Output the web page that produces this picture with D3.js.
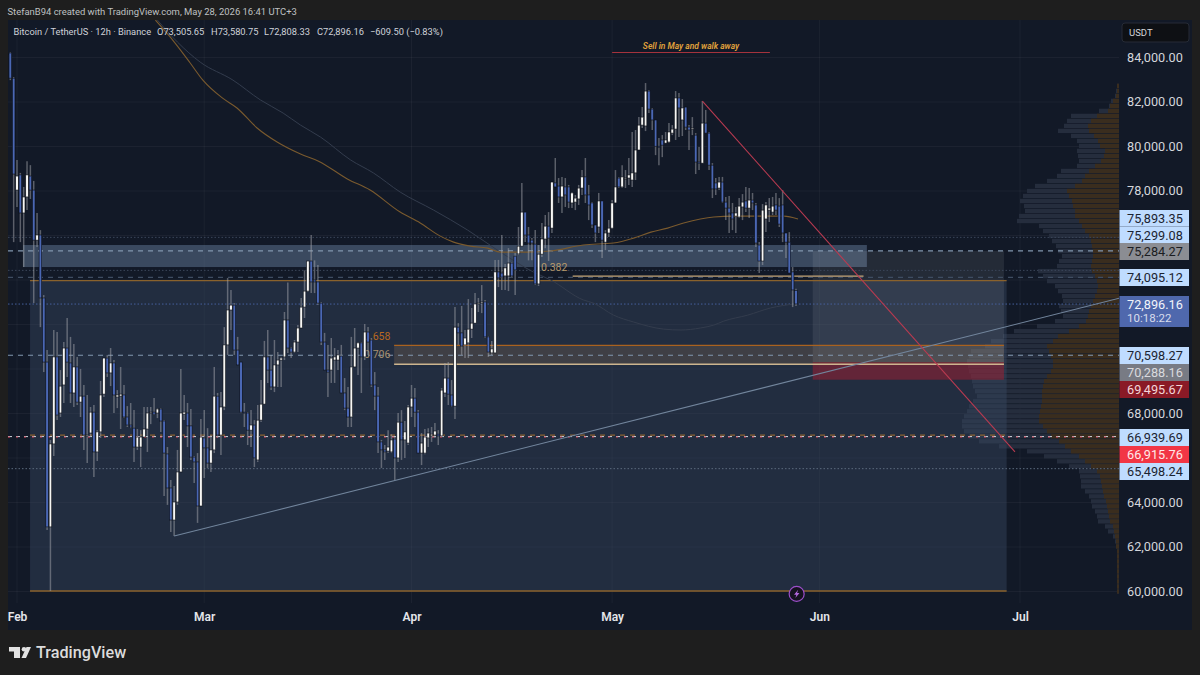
<!DOCTYPE html>
<html>
<head>
<meta charset="utf-8">
<title>BTCUSDT 12h</title>
<script src="https://cdn.jsdelivr.net/npm/d3@7/dist/d3.min.js"></script>
<style>
  html, body { margin: 0; padding: 0; background: #1e1e1e; }
  svg { display: block; }
  text { font-family: Roboto, "Noto Sans", sans-serif; }
</style>
</head>
<body>
<svg id="chart" width="1200" height="675"></svg>
<script>
// BTC/USDT 12h session values, in thousands of USDT, ten sessions per row.
const opens = [
84.09,84.18,83.05,78.02,78.70,76.99,77.71,78.65,78.02,75.77,
76.00,73.17,70.29,62.88,66.61,70.52,68.00,69.26,70.92,70.25,
68.90,70.07,68.49,68.76,66.97,67.10,68.04,66.25,67.15,68.85,
70.47,69.80,70.25,68.72,68.76,68.81,67.82,67.46,67.32,66.47,
66.47,66.92,67.28,68.00,68.04,68.00,68.18,67.64,66.16,64.63,
63.19,64.00,65.35,67.95,68.00,67.42,66.02,65.80,63.82,66.88,
66.43,65.75,66.34,68.76,67.01,68.27,71.06,72.63,72.85,70.83,
70.29,68.04,68.00,67.23,67.46,65.89,67.68,68.40,70.52,69.93,
69.17,70.16,70.38,70.52,72.18,70.92,70.74,71.19,71.82,72.76,
73.48,74.83,73.98,73.89,72.94,71.19,69.93,69.93,70.38,70.38,
70.56,68.90,68.22,67.82,70.07,70.92,71.15,70.52,71.64,71.28,
69.26,68.76,66.70,66.34,66.29,66.25,66.83,65.98,67.59,66.79,
66.65,68.27,68.67,68.04,66.20,66.20,66.88,66.97,67.01,67.05,
66.97,68.90,69.57,68.81,68.31,71.86,71.60,71.06,71.15,71.77,
72.04,72.90,72.94,72.99,71.42,70.70,70.70,74.34,74.29,74.16,
74.16,74.74,75.05,75.15,75.50,77.03,76.00,75.77,75.59,73.80,
75.14,75.82,76.40,76.31,78.34,78.20,77.71,78.16,78.16,77.44,
77.48,77.62,78.11,78.61,77.80,77.44,76.45,76.36,77.53,75.68,
76.09,76.31,77.44,78.56,78.16,78.52,78.56,78.47,78.79,79.82,
80.94,80.90,82.47,81.66,81.17,79.99,80.27,80.13,80.18,80.58,
80.76,82.16,81.17,81.75,80.85,80.76,80.49,79.28,79.23,81.03,
80.58,79.14,78.34,78.11,78.38,77.48,77.21,76.99,76.85,76.81,
77.26,77.53,77.21,77.57,77.35,75.55,74.83,76.72,77.12,77.03,
77.35,77.30,77.35,76.09,75.68,74.34,73.51];
const highs = [
84.22,84.22,83.10,79.37,78.79,78.16,79.32,79.14,78.43,76.99,
76.22,73.30,70.83,66.79,71.73,71.64,69.93,71.19,72.27,71.42,
71.10,70.52,69.98,69.26,68.81,68.27,68.36,67.23,69.44,70.47,
70.61,70.92,70.38,69.03,70.07,69.26,68.31,68.45,68.13,67.28,
67.23,68.27,68.27,68.27,68.67,68.22,68.22,67.68,66.47,64.99,
64.72,66.34,69.98,68.81,68.45,68.18,66.07,66.20,67.73,68.13,
67.32,67.01,70.07,68.90,68.94,71.86,74.07,73.53,72.94,71.42,
70.29,68.45,68.04,68.13,67.68,68.36,69.48,71.24,71.73,70.61,
71.28,70.74,70.52,72.54,73.87,70.97,71.28,71.95,73.17,74.41,
74.83,76.00,74.86,74.65,72.99,71.60,71.06,71.37,70.92,70.83,
71.06,69.57,69.17,71.42,71.82,71.19,71.19,72.00,71.86,71.37,
69.84,69.17,66.79,66.56,67.23,67.05,66.92,68.00,68.13,67.64,
68.36,69.26,69.12,68.13,67.10,67.28,67.32,67.37,67.55,67.23,
69.12,70.25,70.29,69.48,72.76,72.04,72.81,71.73,73.12,72.72,
73.39,73.17,73.75,73.08,71.46,71.24,74.88,74.88,76.00,74.70,
75.41,74.79,75.19,76.36,78.34,77.03,76.36,75.86,76.22,75.55,
76.54,76.90,77.03,78.38,79.46,78.56,78.61,78.56,78.25,77.93,
77.80,78.25,78.92,79.46,78.25,77.48,76.45,77.89,77.53,76.22,
76.67,77.57,78.92,78.61,79.14,78.92,79.46,80.63,80.72,81.30,
81.75,82.83,82.52,81.71,81.17,80.36,80.49,80.63,81.03,80.94,
82.47,82.38,82.11,81.75,80.94,81.30,80.58,79.95,82.02,81.62,
80.63,79.23,78.56,78.61,78.61,77.71,77.75,77.44,77.26,77.66,
77.84,78.16,78.11,77.89,77.44,75.68,77.39,77.48,77.66,77.71,
77.89,77.66,78.02,76.09,76.13,74.56,73.58];
const lows = [
82.56,82.96,75.68,77.26,75.68,74.56,77.12,77.62,72.94,75.46,
71.86,69.84,62.74,60.00,66.07,67.68,67.82,68.45,69.62,68.45,
68.27,68.36,67.82,66.34,65.75,66.92,65.12,65.84,66.88,68.72,
69.62,69.21,68.00,68.22,67.28,67.77,67.37,67.32,65.80,66.34,
65.57,66.92,66.25,67.50,67.91,67.77,67.15,64.27,63.87,62.65,
62.47,63.87,65.35,67.68,66.47,65.89,64.85,63.06,63.82,65.08,
65.53,65.35,66.20,66.88,66.11,68.13,70.61,71.73,70.61,70.16,
68.00,67.37,66.56,66.47,65.57,65.80,67.59,68.40,69.35,69.03,
68.94,69.17,69.17,70.38,70.70,70.47,70.70,70.74,71.82,72.27,
73.44,73.39,73.39,72.85,71.06,69.93,68.72,69.35,69.35,69.93,
68.90,68.13,67.37,67.37,70.07,69.71,68.90,70.38,70.61,69.17,
68.13,66.20,65.53,65.89,66.20,66.20,64.99,65.80,65.89,65.98,
66.56,67.82,67.37,66.20,65.66,66.15,66.47,66.70,66.88,66.56,
66.92,68.72,68.36,68.27,67.73,71.06,70.61,70.47,70.47,71.37,
72.04,72.54,72.49,71.37,70.52,70.61,70.70,73.66,73.53,73.53,
73.48,74.11,73.30,75.10,75.50,75.68,74.86,74.86,73.75,73.71,
75.01,75.41,74.83,76.09,78.16,77.44,76.99,77.26,77.21,77.21,
77.12,77.35,77.80,77.44,76.67,76.31,75.68,76.09,74.97,75.32,
75.91,76.27,77.44,78.11,78.11,78.11,78.25,78.16,78.47,79.82,
80.81,80.67,81.48,80.72,79.59,79.14,79.50,80.13,80.13,80.49,
80.27,80.40,80.45,80.72,79.82,80.49,78.74,78.92,79.23,80.58,
78.92,77.66,77.80,78.02,77.44,76.67,76.09,76.22,76.09,76.76,
76.67,77.03,76.76,77.12,75.46,74.29,74.65,76.13,76.58,76.90,
76.90,76.36,75.68,74.97,74.29,72.76,72.81];
const closes = [
83.05,83.05,78.74,78.65,76.99,77.71,78.70,78.02,75.77,76.00,
73.17,70.29,62.88,66.61,70.52,67.91,69.21,70.92,70.29,68.90,
70.07,68.49,68.76,67.01,67.01,68.04,66.25,67.15,68.81,70.47,
69.80,70.25,68.81,68.81,68.85,67.82,67.46,67.37,66.47,66.92,
66.92,67.28,68.00,68.04,67.95,68.18,67.64,66.20,64.63,63.19,
64.00,65.35,68.00,68.04,67.42,66.02,65.80,63.82,66.92,66.43,
65.75,66.34,68.76,67.01,68.27,71.06,72.63,72.85,70.83,70.16,
68.04,68.00,67.23,67.46,65.98,67.68,68.40,70.52,69.93,69.17,
70.16,70.38,70.47,72.18,70.92,70.74,71.19,71.82,72.76,73.48,
74.83,73.89,73.89,72.94,71.19,69.93,69.84,70.47,70.52,70.61,
68.90,68.22,67.82,70.07,70.92,71.15,70.52,71.64,71.19,69.26,
68.76,66.70,66.34,66.25,66.47,66.79,65.98,67.59,66.79,67.15,
68.27,68.67,68.04,66.20,66.65,66.92,67.10,67.05,67.19,66.97,
69.03,69.57,68.85,68.31,71.86,71.60,71.01,71.37,71.77,72.04,
72.90,72.94,72.99,71.42,70.74,70.88,74.34,74.07,74.11,74.52,
74.74,74.16,74.43,75.50,77.03,76.00,75.64,75.64,73.80,75.14,
75.82,76.40,75.86,78.38,78.16,77.71,78.20,77.80,77.48,77.89,
77.66,78.11,78.61,77.80,77.35,76.45,76.09,77.53,75.77,76.09,
76.31,77.44,78.16,78.16,78.61,78.56,78.70,78.79,79.82,80.94,
81.30,82.47,81.66,81.17,79.99,79.95,80.04,80.27,80.63,80.76,
82.16,81.71,81.71,80.85,80.72,80.81,79.28,79.23,81.03,80.58,
79.14,78.07,78.07,78.38,77.48,77.21,76.99,76.72,76.99,77.30,
77.48,77.21,77.57,77.44,75.64,74.83,77.12,77.35,77.21,77.30,
77.12,76.49,76.09,75.68,74.29,73.53,72.90];

// Moving averages: day offset from 1 Feb, value in thousands.
const emaFastDays = [20.7,22.9,25.9,27.8,30.7,32.9,35.9,38.9,42.4,45.1,49.4,52.8,57.3,60.3,63.3,65.3,67.8,70.4,72.3,76.3,79.8,84.7,89.2,92.2,94.8,97.3,99.7,102.2,104.2,107.2,112.3,114.7,116.8];
const emaFastValues = [85.66,84.90,83.73,82.96,82.16,81.71,80.81,80.18,79.64,79.32,78.52,78.02,77.03,76.54,75.95,75.68,75.50,75.41,75.23,75.23,75.28,75.55,75.64,75.86,76.13,76.31,76.54,76.72,76.81,76.85,76.85,76.85,76.72];
const emaSlowDays = [21,24,27.4,32.3,36.4,39.8,42.4,45.4,49.9,53.3,57.3,62.3,67.4,72.3,77.2,79.8,84.7,86.2,89.2,92.2,96.7,99.3,102.2,104.2,105.7,109.3,112.7,116.2];
const emaSlowValues = [85.66,84.67,83.77,82.96,82.07,81.48,80.94,80.40,79.37,78.79,77.93,77.12,76.22,75.23,74.34,73.98,73.08,72.94,72.40,72.09,71.77,71.73,71.82,71.95,72.13,72.40,72.72,72.90];

// Visible range volume profile, one row per 225 USDT, top row first.
const profileTopPrice = 82800;
const profileStep = 225;
const profileTotal = [2,3,4,8,10,20,48,52,55,61,48,42,40,42,41,40,42,58,62,72,84,92,96,99,95,94,100,102,80,76,70,67,63,61,57,60,62,81,76,72,64,61,57,56,60,58,56,64,82,105,116,128,134,148,150,152,151,150,148,147,146,144,142,146,150,152,155,157,157,155,150,140,120,92,75,62,50,40,39,38,38,34,30,28,27,24,22,21,14,11,6,4,3,2,2,2,2,2,2,2,2,2];
const profileBuy = [2,2,3,6,9,11,22,28,31,30,25,21,19,14,15,18,24,30,34,37,44,52,50,47,46,44,44,40,37,34,30,28,27,26,26,27,28,27,24,22,21,22,24,26,28,30,31,33,40,50,61,66,72,70,68,66,66,68,72,75,76,77,77,77,78,79,80,80,76,72,68,60,54,48,40,34,28,22,19,18,17,16,15,13,12,11,10,9,6,5,4,3,3,2,2,2,2,2,2,2,2,2];

// Axis ticks and price tags.
const priceTicks = [60000,62000,64000,66000,68000,70000,72000,74000,76000,78000,80000,82000,84000];
const labelledTicks = [60000,62000,64000,68000,78000,80000,82000,84000];
const monthTicks = ["2026-02-01","2026-03-01","2026-04-01","2026-05-01","2026-06-01","2026-07-01"];
const tagValues = [75893.35,75299.08,75284.27,74095.12,72896.16,70598.27,70288.16,69495.67,66939.69,66915.76,65498.24];
const tagKinds  = ["alert","alert","pivot","alert","last","alert","muted","stop","alert","danger","alert"];
const tagRows   = [210,226.5,243,269,296,347,364,381,429,446,463];

// Price lines running across the whole plot.
const dashedLevels = [75284.27,70598.27];
const darkDashedLevels = [74095.12];
const dottedLevels = [75893.35,74410];
const lastPrice = 72896.16;
const lowDotted = 65498.24;
const supportBand = 66939.69;

const w = 1200, h = 675;
const panel = { left: 8, right: 1192, top: 20, bottom: 630 };
const plotRight = 1119;

const svg = d3.select("#chart");
const x = d3.scaleUtc()
  .domain([new Date(Date.UTC(2026,1,1)), new Date(Date.UTC(2026,6,1))])
  .range([17, 1020]);
const y = d3.scaleLinear().domain([60000, 84000]).range([591, 57]);
const feb1 = Date.UTC(2026,1,1);
const day = d => new Date(feb1 + d * 864e5);
const xd = d => x(day(d));

const candles = opens.map((o, i) => ({
  t: new Date(feb1 + (i - 3) * 12 * 36e5),
  o: o * 1000, h: highs[i] * 1000, l: lows[i] * 1000, c: closes[i] * 1000
}));

svg.append("rect").attr("width", w).attr("height", h).attr("fill", "#1e1e1e");
svg.append("rect").attr("x", panel.left).attr("y", panel.top)
  .attr("width", panel.right - panel.left).attr("height", panel.bottom - panel.top)
  .attr("fill", "#121927");

svg.append("defs").append("clipPath").attr("id", "plot")
  .append("rect").attr("x", panel.left).attr("y", panel.top)
  .attr("width", plotRight - panel.left).attr("height", panel.bottom - panel.top);

// Grid
const grid = svg.append("g").attr("stroke", "#ffffff").attr("stroke-opacity", 0.045);
grid.selectAll("line.h").data(priceTicks).join("line")
  .attr("x1", panel.left).attr("x2", plotRight)
  .attr("y1", d => y(d) + .5).attr("y2", d => y(d) + .5);
grid.selectAll("line.v").data(monthTicks).join("line")
  .attr("x1", d => x(new Date(d))).attr("x2", d => x(new Date(d)))
  .attr("y1", panel.top).attr("y2", 603);

// Volume profile
const vol = d3.scaleLinear().domain([0, 100]).range([plotRight, plotRight - 100]);
const rowPrice = i => profileTopPrice - i * profileStep;
const rowH = Math.abs(y(0) - y(profileStep));
const prof = svg.append("g");
prof.selectAll("rect.t").data(profileTotal).join("rect")
  .attr("x", d => vol(d)).attr("width", d => plotRight - vol(d))
  .attr("y", (d, i) => y(rowPrice(i))).attr("height", rowH - 0.7)
  .attr("fill", "#252d3d");
prof.selectAll("rect.b").data(profileBuy).join("rect")
  .attr("x", d => vol(d)).attr("width", d => plotRight - vol(d))
  .attr("y", (d, i) => y(rowPrice(i))).attr("height", rowH - 0.7)
  .attr("fill", "#3a2d1e");

// Range box behind price, lighter than the panel
const zones = svg.append("g").attr("clip-path", "url(#plot)");
zones.append("rect").attr("x", xd(1.95)).attr("width", xd(148) - xd(1.95))
  .attr("y", y(73950)).attr("height", y(60000) - y(73950))
  .attr("fill", "#3a4a64").attr("fill-opacity", 0.42);

// Supply zone and 0.658 / 0.706 retracement band
zones.append("rect").attr("x", xd(0.9)).attr("width", xd(127.1) - xd(0.9))
  .attr("y", y(75550)).attr("height", y(74560) - y(75550))
  .attr("fill", "#6f88aa").attr("fill-opacity", 0.43);
zones.append("rect").attr("x", xd(56.4)).attr("width", xd(147.6) - xd(56.4))
  .attr("y", y(71040)).attr("height", y(70190) - y(71040))
  .attr("fill", "#d9a066").attr("fill-opacity", 0.16);

// Target box and the red stop box under it
zones.append("rect").attr("x", xd(119)).attr("width", xd(147.6) - xd(119))
  .attr("y", y(75284.27)).attr("height", y(70288.16) - y(75284.27))
  .attr("fill", "#ffffff").attr("fill-opacity", 0.08);
zones.append("rect").attr("x", xd(119)).attr("width", xd(147.6) - xd(119))
  .attr("y", y(70288.16)).attr("height", y(69495.67) - y(70288.16))
  .attr("fill", "#a31d30").attr("fill-opacity", 0.5);

// Horizontal drawings
const hline = (g, from, to, price, color, width, dash) =>
  g.append("line").attr("x1", from).attr("x2", to)
    .attr("y1", y(price)).attr("y2", y(price))
    .attr("stroke", color).attr("stroke-width", width)
    .attr("stroke-dasharray", dash || null);

const lines = svg.append("g").attr("clip-path", "url(#plot)");
dashedLevels.forEach(p => hline(lines, panel.left, plotRight, p, "#8196ae", 1.1, "5 5"));
darkDashedLevels.forEach(p => hline(lines, panel.left, plotRight, p, "#3f4d62", 1.1, "5 5"));
dottedLevels.forEach(p => hline(lines, panel.left, plotRight, p, "#3b465a", 1, "1.5 2"));
hline(lines, panel.left, plotRight, lastPrice, "#46609c", 1, "1.5 2");
hline(lines, panel.left, plotRight, lowDotted, "#5c6a7d", 1, "1.5 2");
hline(lines, xd(1.95), xd(148), supportBand + 70, "#8a6230", 1.2, "5 5");
hline(lines, panel.left, plotRight, supportBand, "#cfd3da", 1, "4 4");
hline(lines, panel.left, plotRight, 66915.76, "#c03347", 1, "2 6");

hline(lines, xd(1.95), xd(148), 73950, "#8a622c", 1.3);
hline(lines, xd(1.95), xd(148), 60000, "#8a622c", 1.3);
hline(lines, xd(83.1), xd(126.6), 74150, "#c4a679", 1.4);
hline(lines, xd(56.4), xd(147.6), 71040, "#a9621f", 1.4);
hline(lines, xd(56.4), xd(147.6), 70190, "#cdb58f", 1.3);

// Retracement labels
const fibLabel = (txt, lx, price, color) =>
  lines.append("text").attr("x", lx).attr("y", y(price)).attr("fill", color)
    .attr("font-size", 10.5).text(txt);
fibLabel("0.382", 541, 74360, "#b79a6c");
fibLabel("0.658", 364, 71300, "#b9691f");
fibLabel("0.706", 364, 70450, "#a8916f");

// Moving averages
const lineGen = d3.line().x(d => xd(d[0])).y(d => y(d[1] * 1000)).curve(d3.curveMonotoneX);
lines.append("path").attr("d", lineGen(d3.zip(emaSlowDays, emaSlowValues)))
  .attr("fill", "none").attr("stroke", "#333c4d").attr("stroke-width", 1);
lines.append("path").attr("d", lineGen(d3.zip(emaFastDays, emaFastValues)))
  .attr("fill", "none").attr("stroke", "#7a5a2e").attr("stroke-width", 1.1);

// Candles
const cg = svg.append("g").attr("clip-path", "url(#plot)");
cg.selectAll("line.wick").data(candles).join("line")
  .attr("x1", d => x(d.t)).attr("x2", d => x(d.t))
  .attr("y1", d => y(d.h)).attr("y2", d => y(d.l))
  .attr("stroke", "#a4a6ac").attr("stroke-opacity", 0.5).attr("stroke-width", 1.5);
cg.selectAll("rect.body").data(candles).join("rect")
  .attr("x", d => x(d.t) - 1.3).attr("width", 2.6)
  .attr("y", d => y(Math.max(d.o, d.c)))
  .attr("height", d => Math.max(1, Math.abs(y(d.o) - y(d.c))))
  .attr("fill", d => d.c >= d.o ? "#f6f6f4" : "#4a67b4")
  .attr("stroke", "#0b0e15").attr("stroke-width", 0.6);

// Trend lines
const trends = svg.append("g").attr("clip-path", "url(#plot)").attr("fill", "none");
const trendGen = d3.line().x(d => xd(d[0])).y(d => y(d[1]));
const trendUpDays = [23.5, 165], trendUpPrices = [62470, 73170];
const trendDownDays = [102.5, 149.25], trendDownPrices = [82020, 66250];
trends.append("path").attr("d", trendGen(d3.zip(trendUpDays, trendUpPrices)))
  .attr("stroke", "#72859c").attr("stroke-width", 1.1);
trends.append("path").attr("d", trendGen(d3.zip(trendDownDays, trendDownPrices)))
  .attr("stroke", "#b93a50").attr("stroke-width", 1.1);

// Note at the top
svg.append("text").attr("x", 691).attr("y", 48.5).attr("text-anchor", "middle")
  .attr("font-size", 8.5).attr("font-style", "italic").attr("font-weight", 600)
  .attr("fill", "#e0a23c").text("Sell in May and walk away");
svg.append("line").attr("x1", xd(89)).attr("x2", xd(112.6))
  .attr("y1", y(84200)).attr("y2", y(84200))
  .attr("stroke", "#a5323c").attr("stroke-width", 1.1);

// Event marker on the time axis
const ev = svg.append("g").attr("transform", `translate(${xd(116.6)},${y(59870)})`);
ev.append("circle").attr("r", 7.5).attr("fill", "#15121f").attr("stroke", "#9c4fc9").attr("stroke-width", 1.2);
ev.append("path").attr("d", "M1.5,-4.2 L-2.6,0.8 L-0.3,0.8 L-1.3,4.2 L2.8,-1 L0.4,-1 Z").attr("fill", "#b368dd");

// Axes
const yAxis = d3.axisRight(y).tickValues(labelledTicks).tickFormat(d3.format(",.2f")).tickSize(0).tickPadding(8);
const gy = svg.append("g").attr("transform", `translate(${plotRight},0)`).call(yAxis);
gy.select(".domain").remove();
gy.selectAll("text").attr("fill", "#d4d6db").attr("font-size", 12.7)
  .style("font-family", "Roboto, sans-serif");

const xAxis = d3.axisBottom(x).tickValues(monthTicks.map(d => new Date(d)))
  .tickFormat(d3.utcFormat("%b")).tickSize(0).tickPadding(0);
const gx = svg.append("g").attr("transform", "translate(0,612.5)").call(xAxis);
gx.select(".domain").remove();
gx.selectAll("text").attr("fill", "#e4e6ea").attr("font-size", 12).attr("font-weight", 600)
  .style("font-family", "Roboto, sans-serif");

// Price tags on the axis
const tagStyle = {
  alert:  { bg: "#bfdcff", fg: "#1b2330" },
  pivot:  { bg: "#8b8d93", fg: "#1b1d22" },
  muted:  { bg: "#787b84", fg: "#d9dade" },
  stop:   { bg: "#8a1a26", fg: "#f4d6d9" },
  danger: { bg: "#f23645", fg: "#ffe9ea" },
  last:   { bg: "#4f68ad", fg: "#f2f4fa" }
};
const fmt = d3.format(",.2f");
const tags = svg.append("g");
tagValues.forEach((v, i) => {
  const s = tagStyle[tagKinds[i]];
  const top = tagRows[i];
  const ht = tagKinds[i] === "last" ? 31 : (i < 2 ? 16.5 : 17);
  tags.append("rect").attr("x", 1119.5).attr("y", top).attr("width", 69.5).attr("height", ht).attr("fill", s.bg);
  tags.append("text").attr("x", 1127).attr("y", top + 13).attr("fill", s.fg)
    .attr("font-size", 12.7).text(fmt(v));
  if (tagKinds[i] === "last") {
    tags.append("text").attr("x", 1127).attr("y", top + 26).attr("fill", s.fg)
      .attr("fill-opacity", .85).attr("font-size", 11.5).text("10:18:22");
  }
});

// Currency button
svg.append("rect").attr("x", 1122).attr("y", 23).attr("width", 67).attr("height", 19).attr("rx", 3)
  .attr("fill", "#0e1014").attr("stroke", "#262b36");
svg.append("text").attr("x", 1129).attr("y", 36).attr("fill", "#d4d6db").attr("font-size", 9.5).text("USDT");

// Header
svg.append("text").attr("x", 7.5).attr("y", 15.3).attr("fill", "#bfc0c2").attr("font-size", 9.45)
  .text("StefanB94 created with TradingView.com, May 28, 2026 16:41 UTC+3");
const legend = svg.append("text").attr("y", 35.4).attr("fill", "#cfd2d9").attr("font-size", 9.3);
legend.append("tspan").attr("x", 13.5).text("Bitcoin / TetherUS · 12h · Binance");
legend.append("tspan").attr("x", 157).text("O73,505.65");
legend.append("tspan").attr("x", 211).text("H73,580.75");
legend.append("tspan").attr("x", 264).text("L72,808.33");
legend.append("tspan").attr("x", 317).text("C72,896.16");
legend.append("tspan").attr("x", 370).text("−609.50 (−0.83%)");

// Footer logo
const logo = svg.append("g").attr("fill", "#e2e2e2");
logo.append("path").attr("d", "M9,647 H20 V658 H14 V651.5 H9 Z");
logo.append("circle").attr("cx", 24).attr("cy", 649.2).attr("r", 2.3);
logo.append("path").attr("d", "M26.5,647 H31 L26,658 H21.5 Z");
svg.append("text").attr("x", 36).attr("y", 658).attr("fill", "#dcdcdc")
  .attr("font-size", 16.2).attr("font-weight", 500).text("TradingView");
</script>
</body>
</html>
